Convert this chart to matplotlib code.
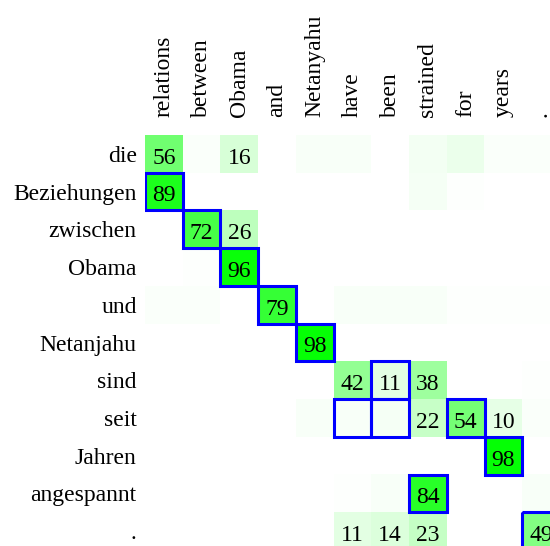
import matplotlib
matplotlib.use("Agg")
import matplotlib.pyplot as plt
import numpy as np
from matplotlib.colors import LinearSegmentedColormap
from matplotlib.patches import Rectangle

# target (English) words along the top, source (German) words down the side
target_words = ["relations", "between", "Obama", "and", "Netanyahu", "have",
                "been", "strained", "for", "years", "."]
source_words = ["die", "Beziehungen", "zwischen", "Obama", "und", "Netanjahu",
                "sind", "seit", "Jahren", "angespannt", "."]

# attention weights in percent, one row per source word
attention = np.array([
    [56, 2, 16, 0, 3, 3, 0, 5, 8, 2, 2],
    [89, 0, 0, 0, 0, 0, 0, 4, 1, 0, 0],
    [0, 72, 26, 0, 0, 0, 0, 0, 0, 0, 0],
    [0, 1, 96, 0, 0, 0, 0, 0, 0, 0, 0],
    [2, 2, 0, 79, 0, 3, 3, 3, 1, 1, 1],
    [0, 0, 0, 0, 98, 0, 0, 0, 0, 0, 0],
    [0, 0, 0, 0, 0, 42, 11, 38, 0, 0, 1],
    [0, 0, 0, 0, 3, 3, 4, 22, 54, 10, 2],
    [0, 0, 0, 0, 0, 0, 0, 0, 0, 98, 0],
    [0, 0, 0, 0, 0, 1, 3, 84, 0, 0, 3],
    [0, 0, 0, 0, 0, 11, 14, 23, 0, 0, 49],
])

# reference alignment (row, col) drawn as blue boxes
alignment = [(1, 0), (2, 1), (3, 2), (4, 3), (5, 4), (6, 6), (7, 5), (7, 6),
             (7, 8), (8, 9), (9, 7), (10, 10)]

plt.rcParams["font.family"] = ["Liberation Serif", "DejaVu Serif"]

fig = plt.figure(figsize=(5.5, 5.46), dpi=100)
ax = fig.add_axes([145 / 550, (546 - 135 - 415) / 546, 415 / 550, 415 / 546])

cmap = LinearSegmentedColormap.from_list("wg", [(1, 1, 1), (0, 1, 0)])
ax.imshow(attention, cmap=cmap, vmin=0, vmax=100, aspect="auto")

for i in range(attention.shape[0]):
    for j in range(attention.shape[1]):
        if attention[i, j] >= 10:
            ax.text(j, i + 0.05, str(attention[i, j]), ha="center",
                    va="center_baseline", fontsize=17, color="black")

for r, c in alignment:
    ax.add_patch(Rectangle((c - 0.5, r - 0.5), 1, 1, fill=False,
                           edgecolor="#0000ff", linewidth=2.2, zorder=3))

ax.xaxis.tick_top()
ax.set_xticks(range(len(target_words)))
ax.set_xticklabels(target_words, rotation=90, fontsize=17)
ax.set_yticks(range(len(source_words)))
ax.set_yticklabels(source_words, fontsize=17)
ax.tick_params(length=0, pad=6)
ax.tick_params(axis="x", pad=13)
for s in ax.spines.values():
    s.set_visible(False)

fig.savefig("out.png", dpi=100)
